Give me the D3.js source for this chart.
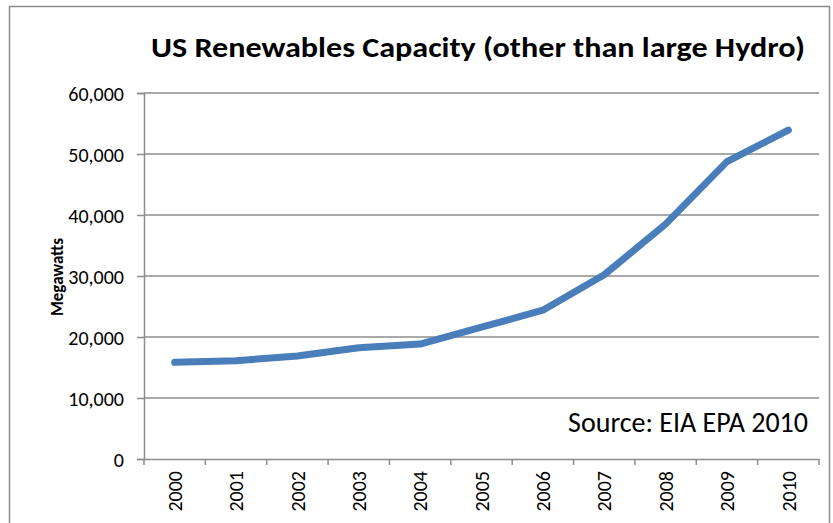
<!DOCTYPE html>
<html><head><meta charset="utf-8">
<script src="https://cdn.jsdelivr.net/npm/d3@7"></script>
<style>body{margin:0;background:#fff}svg{display:block}text{font-family:Carlito,Lato,"Open Sans",sans-serif}</style>
</head><body><svg id="c" width="833" height="523"></svg>
<script>
const years = ["2000","2001","2002","2003","2004","2005","2006","2007","2008","2009","2010"];
const capacity = [15850, 16100, 16900, 18250, 18850, 21600, 24400, 30200, 38500, 48750, 53900];
const yTicks = [0, 10000, 20000, 30000, 40000, 50000, 60000];
const title = "US Renewables Capacity (other than large Hydro)";
const yLabel = "Megawatts";
const note = "Source: EIA EPA 2010";

const svg = d3.select("#c");
svg.append("rect").attr("x",9.5).attr("y",6.5).attr("width",820).attr("height",530)
  .attr("fill","none").attr("stroke","#8c8c8c").attr("stroke-width",1.5);

const m = {l:144, r:819, t:93, b:459};
const x = d3.scaleBand().domain(years).range([m.l, m.r]).padding(0);
const y = d3.scaleLinear().domain([0,60000]).range([m.b, m.t]);

// gridlines
svg.append("g").selectAll("line").data(yTicks.filter(d=>d>0)).join("line")
  .attr("x1",m.l).attr("x2",m.r).attr("y1",d=>y(d)).attr("y2",d=>y(d))
  .attr("stroke","#8c8c8c").attr("stroke-width",1.5);

// y axis
const ya = svg.append("g").attr("transform",`translate(${m.l},0)`)
  .call(d3.axisLeft(y).tickValues(yTicks).tickSize(7).tickPadding(13).tickFormat(d3.format(",")));
ya.select(".domain").attr("stroke","#8c8c8c").attr("stroke-width",1.5);
ya.selectAll(".tick line").attr("stroke","#8c8c8c").attr("stroke-width",1.5);
ya.selectAll("text").attr("font-size",20).attr("fill","#000").attr("dy","0.36em")
  .style("font-family","Carlito,Lato,sans-serif");

// x axis
const xa = svg.append("g").attr("transform",`translate(0,${m.b})`)
  .call(d3.axisBottom(x).tickSize(0).tickPadding(0));
xa.select(".domain").attr("stroke","#8c8c8c").attr("stroke-width",1.5);
xa.selectAll(".tick text").attr("font-size",20).attr("fill","#000")
  .attr("transform","rotate(-90)").attr("text-anchor","end").attr("x",-12).attr("y",0).attr("dy","0.36em")
  .style("font-family","Carlito,Lato,sans-serif");
// category boundary ticks
const bounds = years.map(d=>x(d)).concat([m.r]);
svg.append("g").selectAll("line").data(bounds).join("line")
  .attr("x1",d=>d).attr("x2",d=>d).attr("y1",m.b).attr("y2",m.b+6)
  .attr("stroke","#8c8c8c").attr("stroke-width",1.5);

// line
const line = d3.line().x((d,i)=>x(years[i])+x.bandwidth()/2).y(d=>y(d));
svg.append("path").datum(capacity).attr("d",line).attr("fill","none")
  .attr("stroke","#4a7ebb").attr("stroke-width",7).attr("stroke-linecap","round").attr("stroke-linejoin","round");

// title
svg.append("text").attr("x",478).attr("y",57).attr("text-anchor","middle")
  .attr("font-size",29).attr("font-weight","bold")
  .attr("textLength",654).attr("lengthAdjust","spacingAndGlyphs").text(title);
// y label
svg.append("text").attr("transform","translate(63,277) rotate(-90)").attr("text-anchor","middle")
  .attr("font-size",17).attr("font-weight","bold").text(yLabel);
// source
svg.append("text").attr("x",808).attr("y",432).attr("text-anchor","end")
  .attr("font-size",28).text(note);
</script></body></html>
